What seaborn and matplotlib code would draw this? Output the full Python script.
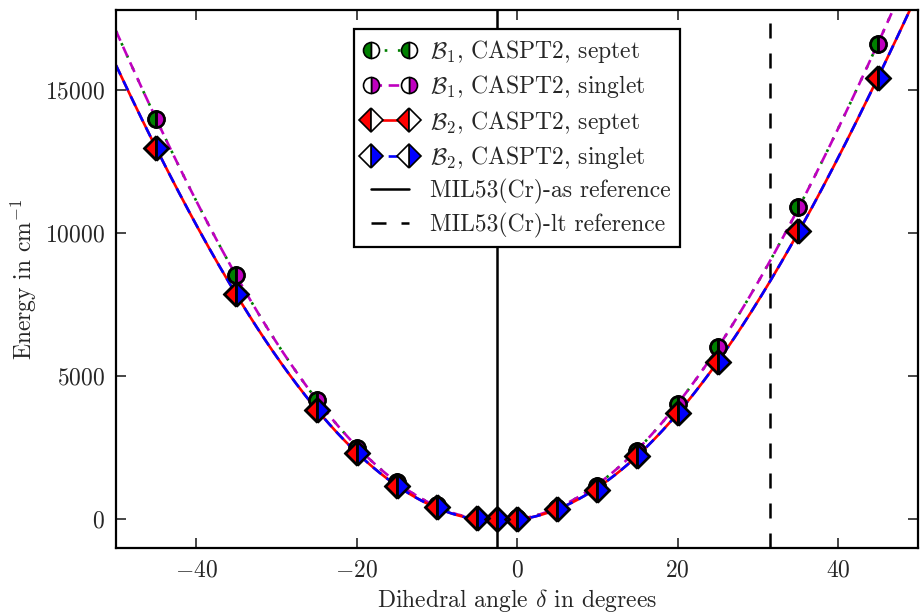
import numpy as np
import matplotlib
matplotlib.use("Agg")
import matplotlib.pyplot as plt
from matplotlib.lines import Line2D
import seaborn as sns

# dihedral angles (degrees) and CASPT2 energies (cm^-1)
angles = [-45, -35, -25, -20, -15, -10, -5, -2.5, 0, 5, 10, 15, 20, 25, 35, 45]
b1_septet = [13990, 8530, 4160, 2480, 1290, 490, 60, 0, 40, 400, 1150, 2380, 4020, 6010, 10910, 16610]
b1_singlet = [13990, 8530, 4160, 2480, 1290, 490, 60, 0, 40, 400, 1150, 2380, 4020, 6010, 10910, 16610]
b2_septet = [12970, 7870, 3810, 2310, 1150, 420, 35, 0, 30, 350, 1010, 2200, 3700, 5490, 10070, 15420]
b2_singlet = [12970, 7870, 3810, 2310, 1150, 420, 35, 0, 30, 350, 1010, 2200, 3700, 5490, 10070, 15420]
ref_as = -2.5
ref_lt = 31.5

labels = [r"$\mathcal{B}_1$, CASPT2, septet", r"$\mathcal{B}_1$, CASPT2, singlet",
          r"$\mathcal{B}_2$, CASPT2, septet", r"$\mathcal{B}_2$, CASPT2, singlet",
          "MIL53(Cr)-as reference", "MIL53(Cr)-lt reference"]

sns.set_style("ticks", {"xtick.direction": "in", "ytick.direction": "in",
                        "axes.edgecolor": "black"})
plt.rcParams["font.family"] = "serif"
plt.rcParams["font.serif"] = ["cmr10", "DejaVu Serif"]
plt.rcParams["mathtext.fontset"] = "cm"
plt.rcParams["axes.formatter.use_mathtext"] = True

fig = plt.figure(figsize=(9.21, 6.13), dpi=100)
ax = fig.add_axes([0.126, 0.106, 0.871, 0.878])

xfit = np.linspace(-50, 50, 400)
series = [
    (b1_septet, "green", (0, (1, 4)), "o", "left", 11.5),
    (b1_singlet, "m", (0, (4, 2.5)), "o", "right", 11.5),
    (b2_septet, "red", "-", "D", "left", 12),
    (b2_singlet, "blue", (0, (4, 2.5)), "D", "right", 12),
]
handles = []
for vals, col, ls, mk, fs, ms in series:
    coef = np.polyfit(angles, vals, 4)
    sns.lineplot(x=xfit, y=np.polyval(coef, xfit), color=col, linestyle=ls, lw=1.9, ax=ax, zorder=2)
for vals, col, ls, mk, fs, ms in series:
    ax.plot(angles, vals, linestyle="none", marker=mk, markersize=ms, fillstyle=fs,
            markerfacecolor=col, markerfacecoloralt="none", markeredgecolor="black",
            markeredgewidth=1.8, zorder=3)
    handles.append(Line2D([], [], color=col, linestyle=ls, lw=1.9, marker=mk, markersize=ms,
                          fillstyle=fs, markerfacecolor=col, markerfacecoloralt="white",
                          markeredgecolor="black", markeredgewidth=1.2))

ax.axvline(ref_as, color="black", lw=1.8, zorder=1)
ax.axvline(ref_lt, color="black", lw=1.8, linestyle=(0, (6, 6)), zorder=1)
handles.append(Line2D([], [], color="black", lw=1.8))
handles.append(Line2D([], [], color="black", lw=1.8, linestyle=(0, (6, 6))))

ax.set_xlim(-50, 50)
ax.set_ylim(-1000, 17800)
ax.set_xticks([-40, -20, 0, 20, 40])
ax.set_yticks([0, 5000, 10000, 15000])
ax.tick_params(axis="both", which="major", labelsize=17, length=7, width=1.2,
               top=True, right=True, direction="in", pad=8)
for s in ax.spines.values():
    s.set_linewidth(1.6)
ax.set_xlabel(r"Dihedral angle $\delta$ in degrees", fontsize=17)
ax.set_ylabel(r"Energy in cm$^{-1}$", fontsize=17)

leg = ax.legend(handles, labels, loc="upper center", numpoints=2, fontsize=17,
                fancybox=False, framealpha=1, edgecolor="black", handlelength=2.2,
                borderaxespad=0.8, labelspacing=0.35, handletextpad=0.6)
leg.get_frame().set_linewidth(1.6)

fig.savefig("out.png", dpi=100)
